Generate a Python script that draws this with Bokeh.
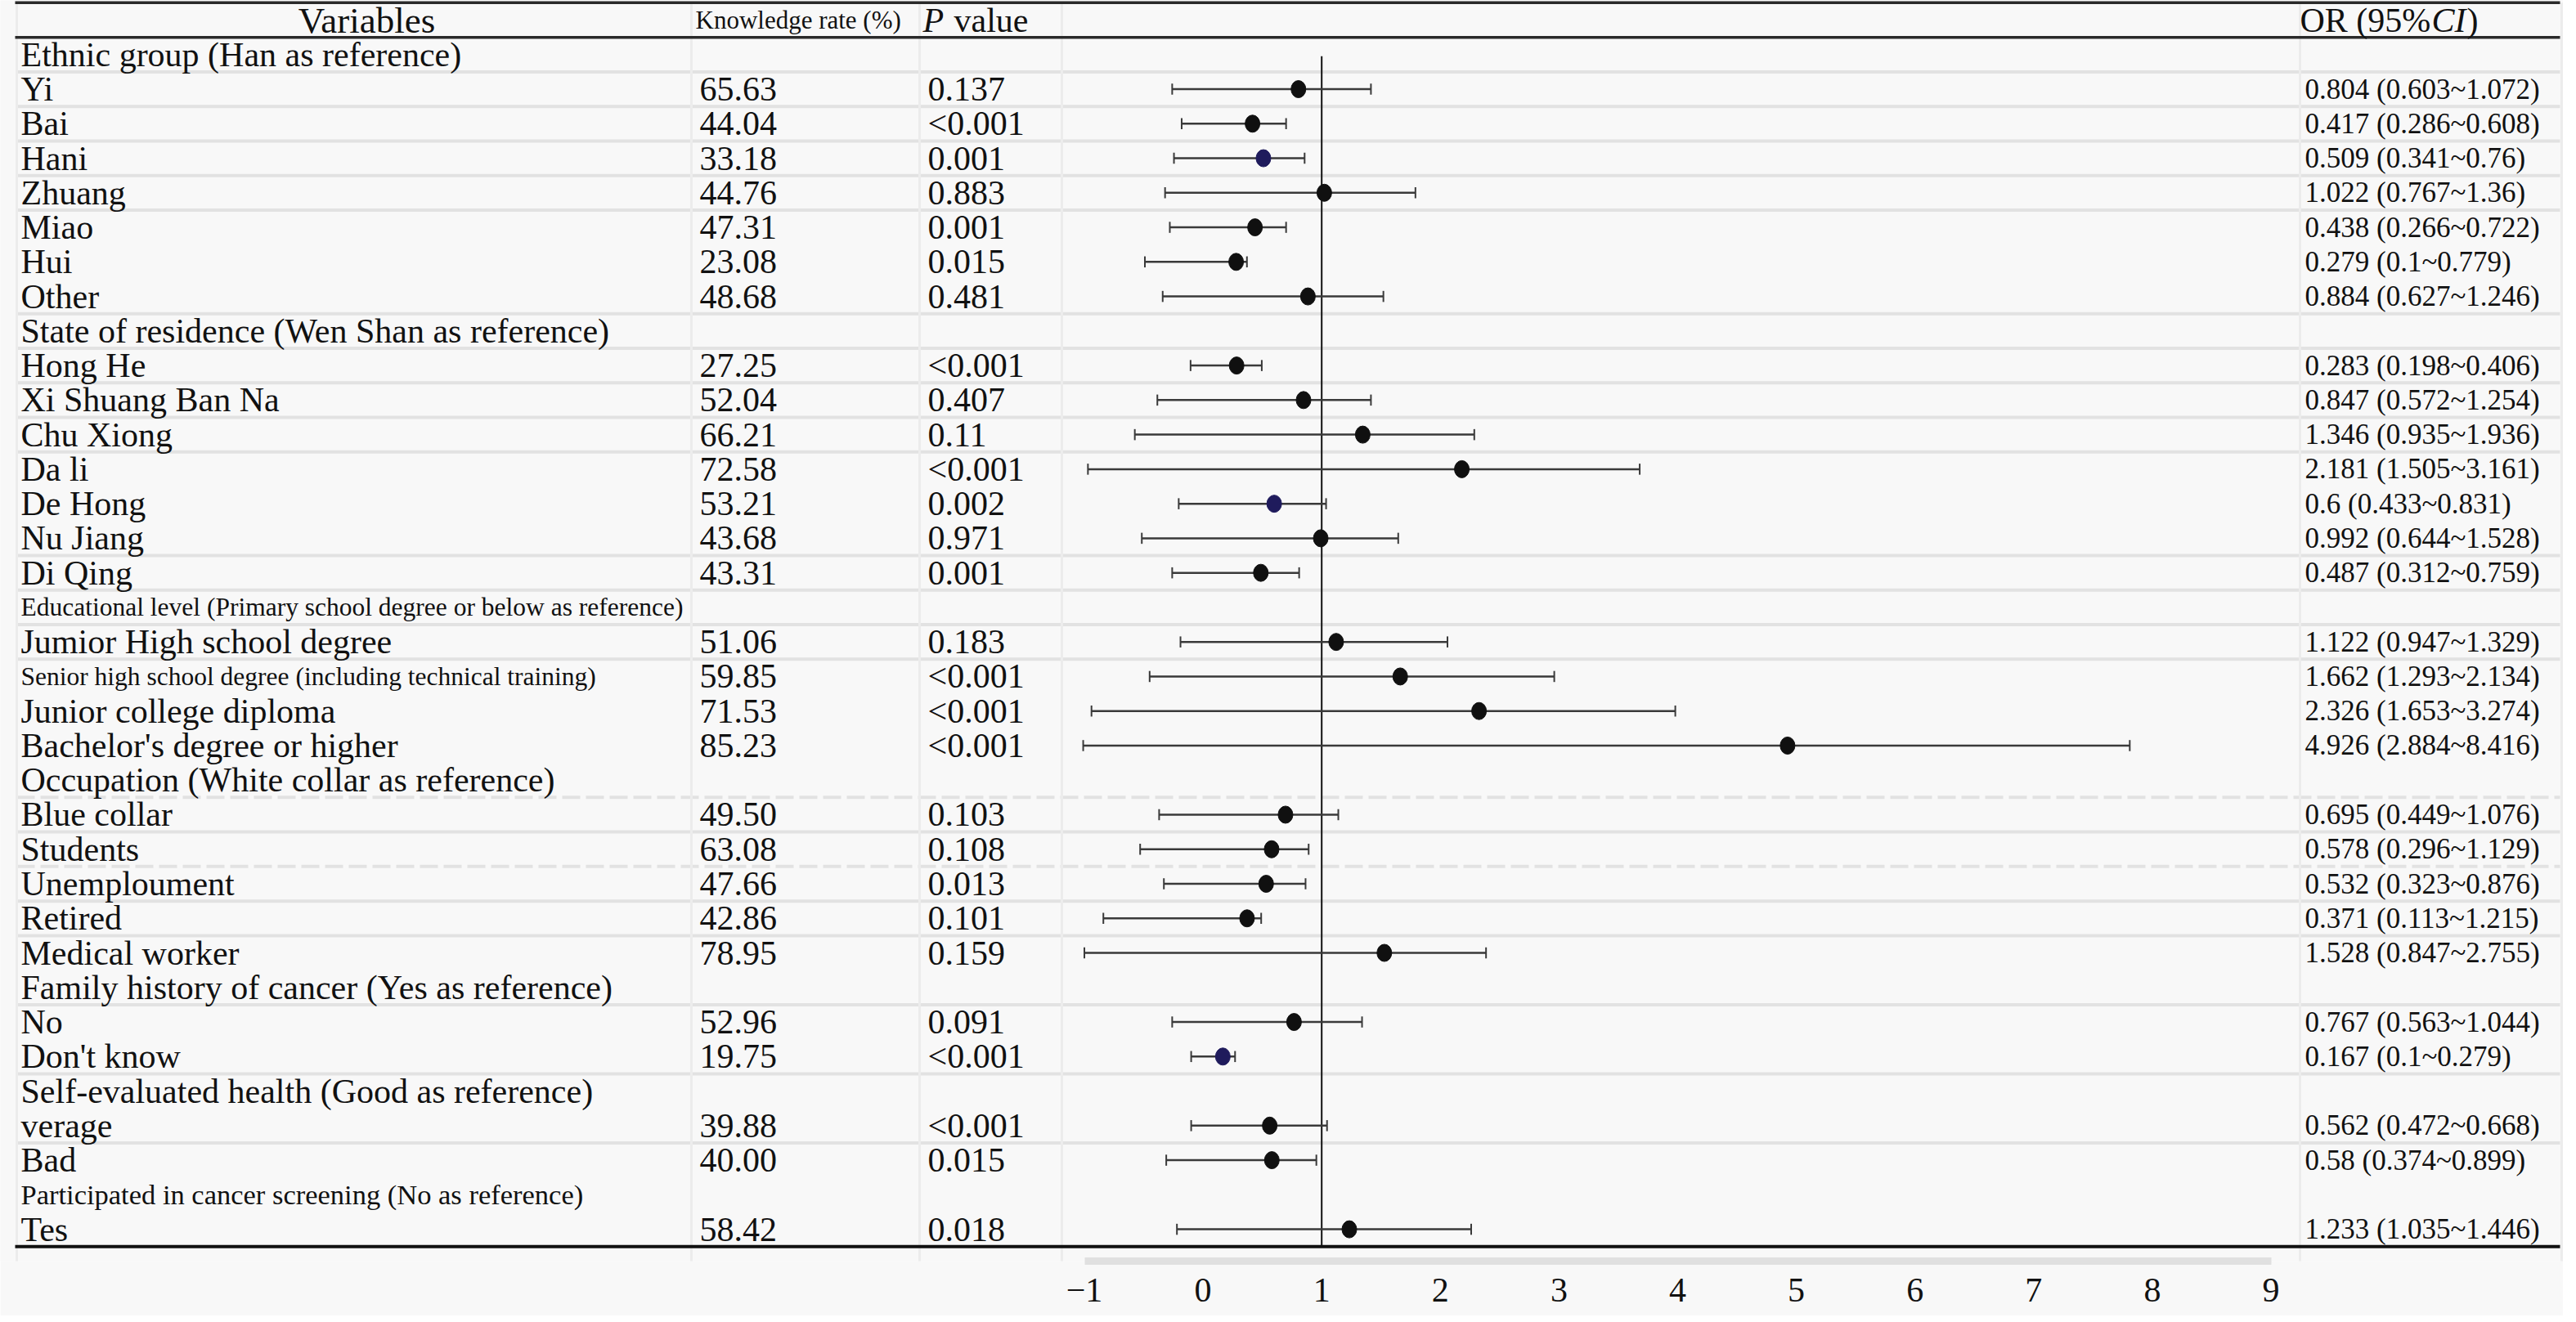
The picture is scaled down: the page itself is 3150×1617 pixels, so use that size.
import pandas as pd
from bokeh.plotting import figure
from bokeh.models import ColumnDataSource, Range1d, FixedTicker, LinearAxis, CustomJSTickFormatter
from bokeh.core.properties import value
from bokeh.embed import file_html
from bokeh.resources import INLINE

# ---------------- data ----------------
variables = [
    "Ethnic group (Han as reference)",
    "Yi", "Bai", "Hani", "Zhuang", "Miao", "Hui", "Other",
    "State of residence (Wen Shan as reference)",
    "Hong He", "Xi Shuang Ban Na", "Chu Xiong", "Da li", "De Hong", "Nu Jiang", "Di Qing",
    "Educational level (Primary school degree or below as reference)",
    "Jumior High school degree",
    "Senior high school degree (including technical training)",
    "Junior college diploma", "Bachelor's degree or higher",
    "Occupation (White collar as reference)",
    "Blue collar", "Students", "Unemploument", "Retired", "Medical worker",
    "Family history of cancer (Yes as reference)",
    "No", "Don't know",
    "Self-evaluated health (Good as reference)",
    "verage", "Bad",
    "Participated in cancer screening (No as reference)",
    "Tes",
]
is_header = [
    True, False, False, False, False, False, False, False,
    True, False, False, False, False, False, False, False,
    True, False, False, False, False,
    True, False, False, False, False, False,
    True, False, False,
    True, False, False,
    True, False,
]
knowledge_rate = [65.63, 44.04, 33.18, 44.76, 47.31, 23.08, 48.68,
                  27.25, 52.04, 66.21, 72.58, 53.21, 43.68, 43.31,
                  51.06, 59.85, 71.53, 85.23,
                  49.50, 63.08, 47.66, 42.86, 78.95,
                  52.96, 19.75,
                  39.88, 40.00,
                  58.42]
p_values = ["0.137", "<0.001", "0.001", "0.883", "0.001", "0.015", "0.481",
            "<0.001", "0.407", "0.11", "<0.001", "0.002", "0.971", "0.001",
            "0.183", "<0.001", "<0.001", "<0.001",
            "0.103", "0.108", "0.013", "0.101", "0.159",
            "0.091", "<0.001",
            "<0.001", "0.015",
            "0.018"]
odds_ratio = [0.804, 0.417, 0.509, 1.022, 0.438, 0.279, 0.884,
              0.283, 0.847, 1.346, 2.181, 0.6, 0.992, 0.487,
              1.122, 1.662, 2.326, 4.926,
              0.695, 0.578, 0.532, 0.371, 1.528,
              0.767, 0.167,
              0.562, 0.58,
              1.233]
ci_low = [0.603, 0.286, 0.341, 0.767, 0.266, 0.1, 0.627,
          0.198, 0.572, 0.935, 1.505, 0.433, 0.644, 0.312,
          0.947, 1.293, 1.653, 2.884,
          0.449, 0.296, 0.323, 0.113, 0.847,
          0.563, 0.1,
          0.472, 0.374,
          1.035]
ci_high = [1.072, 0.608, 0.76, 1.36, 0.722, 0.779, 1.246,
           0.406, 1.254, 1.936, 3.161, 0.831, 1.528, 0.759,
           1.329, 2.134, 3.274, 8.416,
           1.076, 1.129, 0.876, 1.215, 2.755,
           1.044, 0.279,
           0.668, 0.899,
           1.446]
# whisker ends as drawn in the picture (axis units)
bar_low = [-0.26, -0.18, -0.245, -0.32, -0.28, -0.49, -0.34,
           -0.105, -0.385, -0.575, -0.97, -0.205, -0.516, -0.26,
           -0.19, -0.45, -0.94, -1.01,
           -0.37, -0.53, -0.33, -0.84, -1.0,
           -0.26, -0.10,
           -0.10, -0.31,
           -0.22]
bar_high = [1.415, 0.70, 0.856, 1.79, 0.70, 0.37, 1.52,
            0.495, 1.415, 2.286, 3.68, 1.037, 1.645, 0.81,
            2.06, 2.96, 3.98, 7.81,
            1.14, 0.89, 0.864, 0.49, 2.385,
            1.34, 0.27,
            1.045, 0.955,
            2.26]
navy_points = ["Hani", "De Hong", "Don't know"]
x_ticks = list(range(-1, 10))

# ---------------- layout helpers ----------------
W, H = 3134, 1609
FRAME_H = 1542
X0, UNIT = 1470.6, 145.1     # screen px of OR=0, px per unit
Y0, ROW = 24.0, 42.26        # screen px of row 0 centre, px per row


def sx(px):
    return (px - X0) / UNIT


def sy(py):
    return (py - Y0) / ROW


FONT = "Liberation Serif"
INK = "#111111"
label_size = {
    "Educational level (Primary school degree or below as reference)": "31.5px",
    "Senior high school degree (including technical training)": "31.5px",
    "Participated in cancer screening (No as reference)": "34.5px",
}

rows = pd.DataFrame({"label": variables, "header": is_header})
rows["y"] = range(1, len(rows) + 1)
rows["size"] = [label_size.get(l, "42px") for l in rows["label"]]
items = rows[~rows["header"]].reset_index(drop=True)
data = pd.DataFrame({
    "label": items["label"], "y": items["y"],
    "kr": [f"{v:.2f}" for v in knowledge_rate],
    "p": p_values, "or": odds_ratio, "lo": ci_low, "hi": ci_high,
    "blo": bar_low, "bhi": bar_high,
})
data["ortxt"] = [f"{o} ({l}~{h})" for o, l, h in zip(data["or"], data["lo"], data["hi"])]
data["color"] = ["#1f1b5c" if l in navy_points else "#101010" for l in data["label"]]
data["cap0"] = data["y"] - 0.16
data["cap1"] = data["y"] + 0.16

p = figure(width=W, height=H,
           x_range=Range1d(sx(0), sx(W)), y_range=Range1d(sy(FRAME_H), sy(0)),
           output_backend="svg", toolbar_location=None,
           x_axis_location=None, y_axis_location=None,
           min_border_left=0, min_border_right=0, min_border_top=0,
           min_border_bottom=H - FRAME_H,
           background_fill_color="#f8f8f8", border_fill_color="#f8f8f8",
           outline_line_color=None)
p.xgrid.visible = False
p.ygrid.visible = False

# light row separators
solid_after = [1, 2, 3, 4, 5, 8, 9, 10, 11, 12, 15, 16, 17, 18, 23, 25, 26, 28, 30, 32]
dashed_after = [22, 24]
xl, xr = sx(20), sx(3130)
p.segment(x0=[xl] * len(solid_after), x1=[xr] * len(solid_after),
          y0=[b + 0.5 for b in solid_after], y1=[b + 0.5 for b in solid_after],
          line_color="#e2e2e2", line_width=4)
p.segment(x0=[xl] * len(dashed_after), x1=[xr] * len(dashed_after),
          y0=[b + 0.5 for b in dashed_after], y1=[b + 0.5 for b in dashed_after],
          line_color="#e2e2e2", line_width=4, line_dash="22 7")
# faint column borders
vx = [sx(v) for v in (20, 845, 1124, 1298, 2812, 3132)]
p.segment(x0=vx, x1=vx, y0=[-0.5] * len(vx), y1=[sy(H)] * len(vx),
          line_color="#ececec", line_width=3)

# table rules
p.segment(x0=[sx(18)] * 2, x1=[xr] * 2, y0=[-0.5, 0.5], y1=[-0.5, 0.5],
          line_color="#2a2a2a", line_width=3.5)
p.segment(x0=[sx(18)], x1=[xr], y0=[35.5], y1=[35.5],
          line_color="#111111", line_width=4)

# reference line at OR = 1
p.segment(x0=[1], x1=[1], y0=[1.05], y1=[35.5], line_color="#111111", line_width=2)

src = ColumnDataSource(data)
p.segment(x0="blo", x1="bhi", y0="y", y1="y", source=src, line_color="#3a3a3a", line_width=2.5)
p.segment(x0="blo", x1="blo", y0="cap0", y1="cap1", source=src, line_color="#3a3a3a", line_width=2)
p.segment(x0="bhi", x1="bhi", y0="cap0", y1="cap1", source=src, line_color="#3a3a3a", line_width=2)
p.ellipse(x="or", y="y", width=18, height=21, width_units="screen", height_units="screen",
          source=src, fill_color="color", line_color="color", line_width=1)

# table text
rsrc = ColumnDataSource(rows)
p.text(x=sx(25), y="y", text="label", source=rsrc,
       text_font=value(FONT), text_font_size="size", text_color=INK,
       text_baseline="middle", text_align="left")
p.text(x=sx(855), y="y", text="kr", source=src, text_font=value(FONT),
       text_font_size="42px", text_color=INK, text_baseline="middle")
p.text(x=sx(1134), y="y", text="p", source=src, text_font=value(FONT),
       text_font_size="42px", text_color=INK, text_baseline="middle")
p.text(x=sx(2818), y="y", text="ortxt", source=src, text_font=value(FONT),
       text_font_size="35px", text_color=INK, text_baseline="middle")

# header row
def head(x, txt, size="42px", style="normal", align="left"):
    p.text(x=[x], y=[0], text=[txt], text_font=value(FONT), text_font_size=size,
           text_font_style=style, text_color=INK, text_baseline="middle", text_align=align)

head(sx(448), "Variables", size="45px", align="center")
head(sx(850), "Knowledge rate (%)", size="31px")
head(sx(1128), "P", style="italic")
head(sx(1166), "value")
head(sx(2812), "OR (95%")
head(sx(2973), "CI", style="italic")
head(sx(3016), ")")

# x axis
ax = LinearAxis(ticker=FixedTicker(ticks=x_ticks), bounds=(-1, 9))
ax.formatter = CustomJSTickFormatter(code="return (tick < 0 ? '\u2212' : '') + Math.abs(tick).toFixed(0);")
ax.axis_line_color = "#e0e0e0"
ax.axis_line_width = 9
ax.major_tick_line_color = None
ax.major_tick_in = 0
ax.major_tick_out = 0
ax.minor_tick_line_color = None
ax.major_label_standoff = 21
ax.major_label_text_font = FONT
ax.major_label_text_font_size = "42px"
ax.major_label_text_color = INK
p.add_layout(ax, "below")

open("out.html", "w").write(file_html(p, INLINE))
